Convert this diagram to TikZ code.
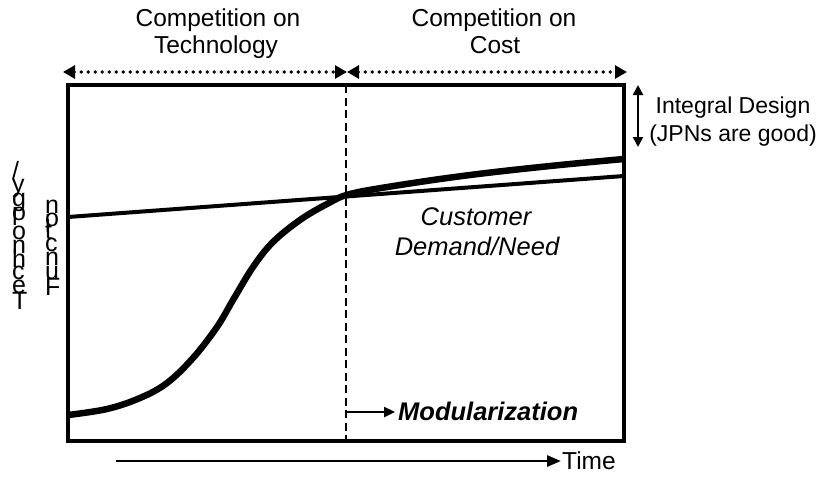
\documentclass[tikz,border=0pt]{standalone}
\usepackage{fontspec}
\setmainfont{Liberation Sans}
\usetikzlibrary{arrows.meta}
\begin{document}
\begin{tikzpicture}[x=1pt,y=-1pt,
  txt/.style={inner sep=0pt, anchor=base, font=\fontsize{24.5}{27}\selectfont},
  ylab/.style={inner sep=0pt, anchor=base west, font=\fontsize{25}{27}\selectfont},
  dotarrow/.style={line width=3.6pt, dash pattern=on 0pt off 7pt, line cap=round,
    {Triangle[length=12pt,width=13pt]}-{Triangle[length=12pt,width=13pt]}},
  thinarrow/.style={line width=2.8pt, -{Triangle[length=14pt,width=11pt]}},
  dblarrow/.style={line width=2.8pt, {Triangle[length=10pt,width=10pt]}-{Triangle[length=10pt,width=10pt]}},
  boxline/.style={line width=3.8pt},
  demand/.style={line width=4pt},
  techcurve/.style={line width=6.5pt, line join=round},
  divider/.style={line width=2.8pt, dash pattern=on 8pt off 4.5pt}]
\useasboundingbox (0,0) rectangle (819,477);

% coordinates
\coordinate (tl) at (68,85);
\coordinate (br) at (624,441);
\coordinate (dtop) at (346,85);
\coordinate (dbot) at (346,441);
\coordinate (al) at (63,72);
\coordinate (am) at (347,72);
\coordinate (ar) at (627,72);
\coordinate (it) at (638,85);
\coordinate (ib) at (638,147);
\coordinate (ms) at (346,412);
\coordinate (me) at (395,412);
\coordinate (ts) at (116,461);
\coordinate (te) at (561,461);
\coordinate (dl) at (68,217);
\coordinate (dr) at (624,176);

% frame
\draw[boxline] (tl) rectangle (br);
\draw[divider] (dtop) -- (dbot);

% demand line and technology curve
\draw[demand] (dl) -- (dr);
\draw[techcurve] plot[smooth, tension=0.6] coordinates {
  (68,415) (107,409) (140,398) (167,383) (193,358) (217,327) (233,300)
  (253,267) (273,242) (300,220) (327,204) (350,194) (400,185) (470,175)
  (550,166) (624,159)};

% top arrows and labels
\draw[dotarrow] (al) -- (am);
\draw[dotarrow] (am) -- (ar);
\node[txt] (ct1) at (218,26) {Competition on};
\node[txt] (ct2) at (216,53) {Technology};
\node[txt] (cc1) at (494,26) {Competition on};
\node[txt] (cc2) at (495,53) {Cost};

% integral design
\draw[dblarrow] (it) -- (ib);
\node[txt, font=\fontsize{23}{27}\selectfont] (id1) at (733,113) {Integral Design};
\node[txt, font=\fontsize{23}{27}\selectfont] (id2) at (733,141) {(JPNs are good)};

% customer demand
\node[txt, font=\fontsize{25.5}{27}\selectfont\itshape] (cd1) at (476,225) {Customer};
\node[txt, font=\fontsize{25.5}{27}\selectfont\itshape] (cd2) at (477,255) {Demand/Need};

% modularization
\node[txt, anchor=base west, font=\fontsize{25.5}{27}\selectfont\bfseries\itshape] (mod) at (398,420) {Modularization};
\draw[line width=2.4pt, -{Triangle[length=11pt,width=10pt]}] (ms) -- (me);

% time
\draw[thinarrow] (ts) -- (te);
\node[txt, anchor=base west] (time) at (562,469) {Time};

% garbled vertical axis label: "Technology/"
\node[ylab] (ya1) at (12,309) {T};
\node[ylab] (ya2) at (12,293.7) {e};
\node[ylab] (ya3) at (12,279.8) {c};
\node[ylab] (ya4) at (12,267.3) {h};
\node[ylab] (ya5) at (12,253.4) {n};
\node[ylab] (ya6) at (12,239.5) {o};
\node[ylab] (ya7) at (12,225.6) {l};
\node[ylab] (ya8) at (12,220.0) {o};
\node[ylab] (ya9) at (12,206.1) {g};
\node[ylab] (ya10) at (12,192.2) {y};
\node[ylab] (ya11) at (12,179.7) {/};
% "Function"
\node[ylab] (yb1) at (45,295) {F};
\node[ylab] (yb2) at (45,279.7) {u};
\node[ylab] (yb3) at (45,265.8) {n};
\node[ylab] (yb4) at (45,251.9) {c};
\node[ylab] (yb5) at (45,239.4) {t};
\node[ylab] (yb6) at (45,232.5) {i};
\node[ylab] (yb7) at (45,226.9) {o};
\node[ylab] (yb8) at (45,213.0) {n};
\end{tikzpicture}
\end{document}
